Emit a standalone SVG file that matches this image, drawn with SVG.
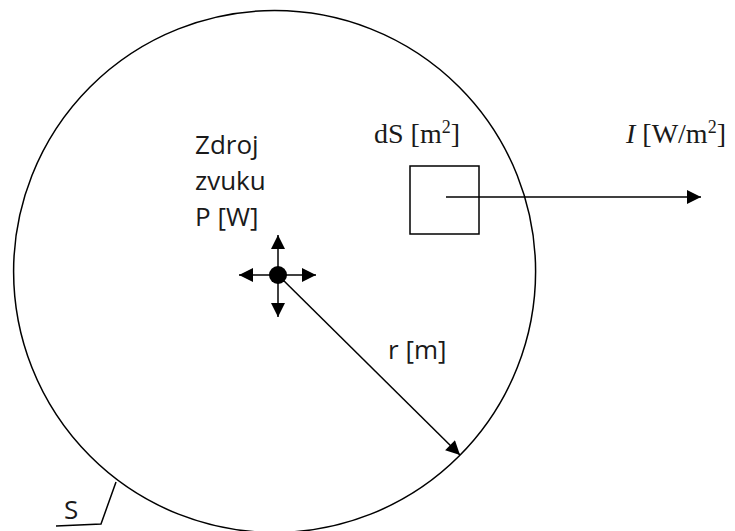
<svg xmlns="http://www.w3.org/2000/svg" width="735" height="531" viewBox="0 0 735 531">
<style>
.ln{stroke:#000;stroke-width:1.5;fill:none}
.sans{font-family:"Open Sans","Liberation Sans",sans-serif;font-size:26px;fill:#1a1a1a}
.serif{font-family:"Liberation Serif","DejaVu Serif",serif;font-size:28px;fill:#1a1a1a}
</style>
<defs>
<marker id="ah2" viewBox="0 0 10 10" refX="10" refY="5" markerWidth="16" markerHeight="14" markerUnits="userSpaceOnUse" orient="auto">
<path d="M0,0 L10,5 L0,10 z" fill="#000"/>
</marker>
</defs>
<rect width="735" height="531" fill="#fff"/>
<g id="sphere">
<circle cx="274.6" cy="271.5" r="261" class="ln"/>
<path d="M116,482 L101,524 L56,526" class="ln"/>
<text x="64" y="519" class="sans">S</text>
</g>
<g id="source">
<circle cx="278" cy="275" r="9" fill="#000"/>
<text class="sans"><tspan x="195" y="154">Zdroj</tspan><tspan x="195" y="190">zvuku</tspan><tspan x="195" y="226">P [W]</tspan></text>
</g>
<g id="element">
<rect x="410" y="166" width="69" height="68" class="ln"/>
<text x="374" y="143" class="serif">dS [m<tspan dy="-10" font-size="18">2</tspan><tspan dy="10">]</tspan></text>
</g>
<g id="intensity">
<text x="626" y="143" class="serif"><tspan font-style="italic">I</tspan> [W/m<tspan dy="-10" font-size="18">2</tspan><tspan dy="10">]</tspan></text>
</g>
<g id="radius-label">
<text x="388" y="359" class="sans">r [m]</text>
</g>
<g id="connectors">
<line x1="278" y1="275" x2="278" y2="235" class="ln" marker-end="url(#ah2)"/>
<line x1="278" y1="275" x2="278" y2="317" class="ln" marker-end="url(#ah2)"/>
<line x1="278" y1="275" x2="239" y2="275" class="ln" marker-end="url(#ah2)"/>
<line x1="278" y1="275" x2="316" y2="275" class="ln" marker-end="url(#ah2)"/>
<line x1="278" y1="275" x2="460" y2="455" class="ln" marker-end="url(#ah2)"/>
<line x1="446" y1="197" x2="701" y2="197" class="ln" marker-end="url(#ah2)"/>
</g>
</svg>
